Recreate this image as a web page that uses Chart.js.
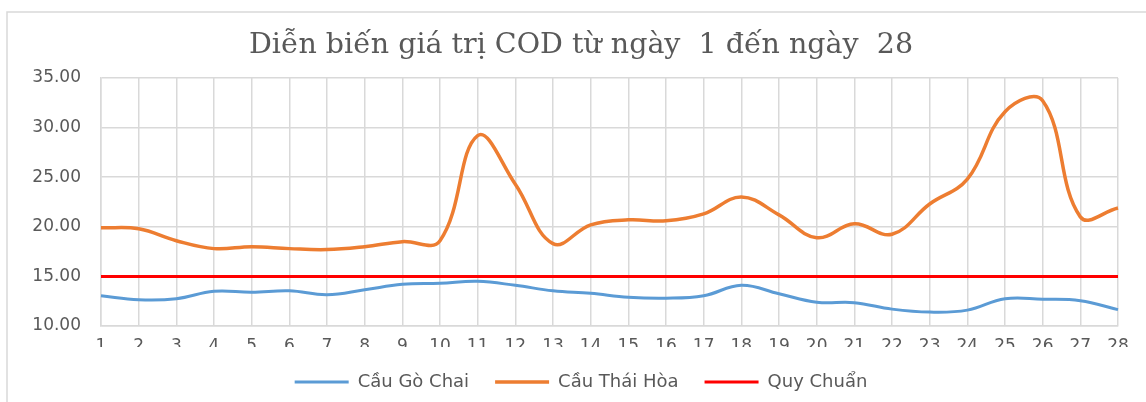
<!DOCTYPE html>
<html>
<head>
<meta charset="utf-8">
<script src="https://cdn.jsdelivr.net/npm/chart.js@4"></script>
<style>
  body { margin: 0; background: #fff; }
</style>
</head>
<body>
<canvas id="cod" width="1146" height="402"></canvas>
<script>
const days = ["1","2","3","4","5","6","7","8","9","10","11","12","13","14","15","16","17","18","19","20","21","22","23","24","25","26","27","28"];

const goChai = [13.05, 12.65, 12.75, 13.5, 13.4, 13.55, 13.15, 13.65, 14.2, 14.3, 14.5, 14.1, 13.55, 13.3, 12.9, 12.8, 13.05, 14.1, 13.25, 12.4, 12.35, 11.7, 11.4, 11.6, 12.75, 12.7, 12.55, 11.65];

const thaiHoa = [19.9, 19.8, 18.6, 17.8, 18.0, 17.8, 17.7, 18.0, 18.5, 18.6, 29.2, 24.3, 18.3, 20.2, 20.7, 20.6, 21.3, 23.0, 21.2, 18.9, 20.3, 19.25, 22.3, 24.8, 31.6, 32.7, 21.0, 21.9];

const quyChuan = days.map(() => 15);

const textColor = "#595959";
const tickFont = { family: "DejaVu Sans", size: 17 };

// outer frame of the chart, like the Excel chart border
const frame = {
  id: "frame",
  beforeDraw(chart) {
    const ctx = chart.ctx;
    ctx.save();
    ctx.strokeStyle = "#d9d9d9";
    ctx.lineWidth = 1.5;
    ctx.beginPath();
    ctx.moveTo(7, 402);
    ctx.lineTo(7, 12);
    ctx.lineTo(1146, 12);
    ctx.stroke();
    ctx.restore();
  },
};

new Chart(document.getElementById("cod"), {
  type: "line",
  data: {
    labels: days,
    datasets: [
      {
        label: "Cầu Gò Chai",
        data: goChai,
        borderColor: "#5b9bd5",
        backgroundColor: "#5b9bd5",
        borderWidth: 3,
        tension: 0.4,
        pointRadius: 0,
      },
      {
        label: "Cầu Thái Hòa",
        data: thaiHoa,
        borderColor: "#ed7d31",
        backgroundColor: "#ed7d31",
        borderWidth: 3.5,
        tension: 0.4,
        pointRadius: 0,
      },
      {
        label: "Quy Chuẩn",
        data: quyChuan,
        borderColor: "#ff0000",
        backgroundColor: "#ff0000",
        borderWidth: 3,
        tension: 0,
        pointRadius: 0,
      },
    ],
  },
  options: {
    responsive: false,
    animation: false,
    layout: { padding: { left: 24, right: 8, top: 12, bottom: 1 } },
    plugins: {
      title: {
        display: true,
        text: "Diễn biến giá trị COD từ ngày  1 đến ngày  28",
        color: textColor,
        font: { family: "DejaVu Serif", size: 28.5, weight: "normal" },
        padding: { top: 16, bottom: 15.8 },
      },
      legend: {
        position: "bottom",
        labels: {
          color: textColor,
          font: { family: "DejaVu Sans", size: 18 },
          boxWidth: 54,
          boxHeight: 0,
          padding: 26,
        },
      },
      tooltip: { enabled: false },
    },
    scales: {
      x: {
        offset: false,
        grid: { color: "#d9d9d9", lineWidth: 1.5, drawTicks: false },
        border: { color: "#d9d9d9", width: 1.5 },
        ticks: { color: textColor, font: tickFont, padding: 10, maxRotation: 0, autoSkip: false },
        afterFit(scale) { scale.height = 21; },
      },
      y: {
        min: 10,
        max: 35,
        grid: { color: "#d9d9d9", lineWidth: 1.5, drawTicks: false },
        border: { color: "#d9d9d9", width: 1.5 },
        ticks: {
          stepSize: 5,
          color: textColor,
          font: tickFont,
          padding: 20,
          callback: (v) => v.toFixed(2),
        },
        afterFit(scale) { scale.width = 77; },
      },
      // empty right-hand strip so the plot ends where the reference does
      yRight: {
        position: "right",
        grid: { display: false },
        border: { display: false },
        ticks: { display: false },
        afterFit(scale) { scale.width = 20; },
      },
    },
  },
  plugins: [frame],
});
</script>
</body>
</html>
